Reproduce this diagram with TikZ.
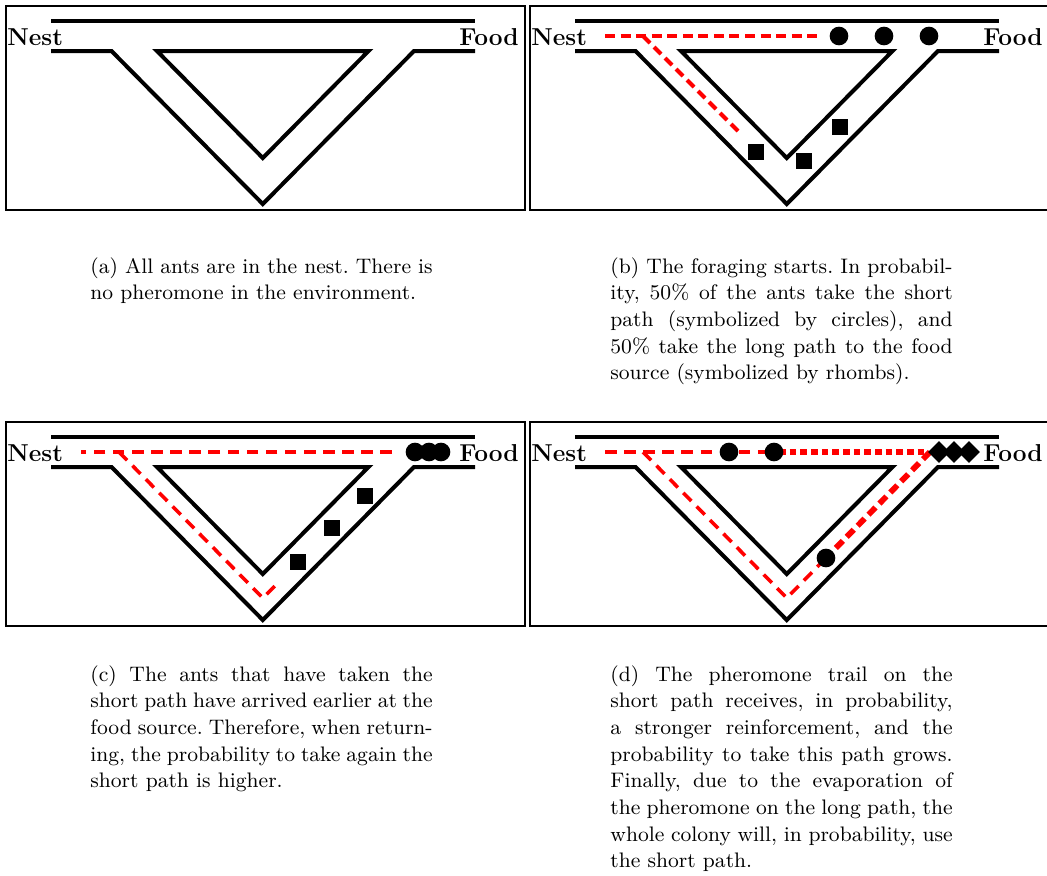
\documentclass[tikz,border=0pt]{standalone}
\usetikzlibrary{shapes.geometric}
\begin{document}
\begin{tikzpicture}[x=0.45pt,y=-0.45pt]

    \tikzset{
        frame/.style={draw, line width=0.9pt},
        wall/.style={line width=1.8pt},
        endlabel/.style={inner sep=0pt, font=\fontsize{11}{13}\selectfont\bfseries},
        trail/.style={red, line width=1.6pt, dash pattern=on 5.2pt off 3.4pt},
        strong/.style={red, line width=3pt, dash pattern=on 3pt off 1.8pt},
        ant/.style={circle, fill=black, minimum size=8.4pt, inner sep=0pt},
        longant/.style={rectangle, fill=black, minimum size=7.2pt, inner sep=0pt},
        backant/.style={diamond, fill=black, minimum size=10pt, inner sep=0pt},
        subcap/.style={inner sep=0pt, anchor=north west, text width=154pt, align=justify,
            font=\fontsize{9.45}{12}\selectfont\frenchspacing}
    }

    \useasboundingbox (0,0) rectangle (1047,875);

    % boxes, channels and labels of all four panels
    \foreach \dx/\dy/\p in {0/0/a, 524/0/b, 0/416/c, 524/416/d} {
        \begin{scope}[shift={(\dx,\dy)}]
            \draw[frame] (6,6) rectangle (525,210);
            \draw[wall] (51,21) -- (475,21);
            \draw[wall] (51,51) -- (111.5,51) -- (262.8,204) -- (414,51) -- (475,51);
            \draw[wall] (157,51) -- (368.5,51) -- (262.8,158) -- cycle;
            \node[endlabel, anchor=base west] (nest\p) at (7,45) {Nest};
            \node[endlabel, anchor=base east] (food\p) at (519,45) {Food};
        \end{scope}
    }

    % (b) the foraging starts
    \begin{scope}[shift={(524,0)}]
        \coordinate (bstart) at (81,36);
        \coordinate (bjoin)  at (119,36);
        \coordinate (bshort) at (293,36);
        \coordinate (blong)  at (216,133);
        \draw[trail, line width=1.8pt, dash pattern=on 4.5pt off 2.5pt] (bstart) -- (bshort);
        \draw[trail, line width=1.8pt, dash pattern=on 4.5pt off 2.5pt] (bjoin) -- (blong);
        \node[ant] (b1) at (315,36) {};
        \node[ant] (b2) at (360,36) {};
        \node[ant] (b3) at (405,36) {};
        \node[longant] (b4) at (232,152) {};
        \node[longant] (b5) at (280,161) {};
        \node[longant] (b6) at (316,127) {};
    \end{scope}

    % (c) short path ants arrive first
    \begin{scope}[shift={(0,416)}]
        \coordinate (cfood)  at (392,36);
        \coordinate (cjoin)  at (119,36);
        \coordinate (cstart) at (81,36);
        \coordinate (cbend)  at (262.8,182);
        \coordinate (cend)   at (277,168);
        \draw[trail] (cfood) -- (cstart);
        \draw[trail] (cjoin) -- (cbend) -- (cend);
        \node[ant] (c1) at (415,36) {};
        \node[ant] (c2) at (429,36) {};
        \node[ant] (c3) at (441,36) {};
        \node[longant] (c4) at (298,146) {};
        \node[longant] (c5) at (332,112) {};
        \node[longant] (c6) at (365,80) {};
    \end{scope}

    % (d) reinforcement of the short path
    \begin{scope}[shift={(524,416)}]
        \coordinate (dstart) at (81,36);
        \coordinate (djoin)  at (119,36);
        \coordinate (dmid)   at (255,36);
        \coordinate (dend)   at (400,36);
        \coordinate (dfood)  at (406,36);
        \coordinate (dbend)  at (262.8,182);
        \coordinate (dup)    at (300,144);
        \draw[trail] (dstart) -- (dmid);
        \draw[trail] (djoin) -- (dbend) -- (dup);
        \draw[strong] (dmid) -- (dend);
        \draw[strong, line width=2.6pt, dash pattern=on 4.5pt off 2.5pt] (dfood) -- (dup);
        \node[ant] (d1) at (205,36) {};
        \node[ant] (d2) at (250,36) {};
        \node[ant] (d3) at (302,142) {};
        \node[backant] (d4) at (415,36) {};
        \node[backant] (d5) at (430,36) {};
        \node[backant] (d6) at (445,36) {};
    \end{scope}

    % captions
    \node[subcap] (capa) at (90,257) {(a) All ants are in the nest. There is no pheromone in the environment.};
    \node[subcap] (capb) at (610,257) {(b) The foraging starts. In probability, 50\% of the ants take the short path (symbolized by circles), and 50\% take the long path to the food source (symbolized by rhombs).};
    \node[subcap] (capc) at (90,665) {(c) The ants that have taken the short path have arrived earlier at the food source. Therefore, when returning, the probability to take again the short path is higher.};
    \node[subcap] (capd) at (610,665) {(d) The pheromone trail on the short path receives, in probability, a stronger reinforcement, and the probability to take this path grows. Finally, due to the evaporation of the pheromone on the long path, the whole colony will, in probability, use the short path.};

\end{tikzpicture}
\end{document}
